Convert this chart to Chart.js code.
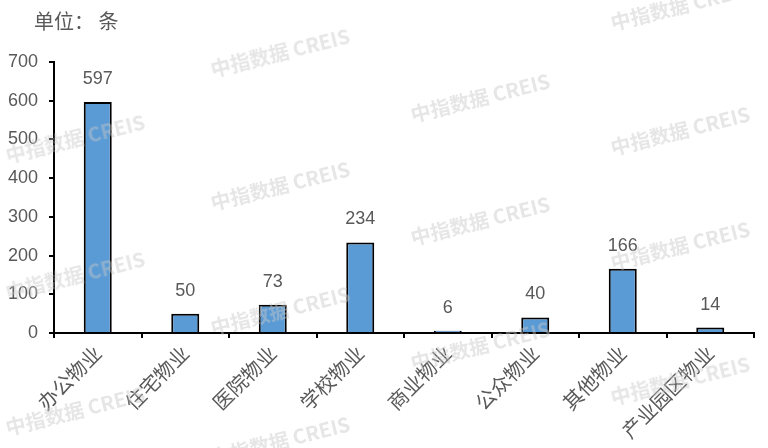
<!DOCTYPE html>
<html>
<head>
<meta charset="utf-8">
<script src="https://cdn.jsdelivr.net/npm/chart.js@4"></script>
<style>
  html, body { margin: 0; padding: 0; background: #fff; }
  #wrap { position: relative; width: 768px; height: 448px; overflow: hidden; }
  #unit { position: absolute; left: 34px; top: 6px; font: 20px "Noto Sans CJK SC", sans-serif; color: #595959; }
  .wm { position: absolute; white-space: nowrap; font: bold 20px "Noto Sans CJK SC", sans-serif;
        color: rgba(200,200,200,0.45); transform: translate(-50%, -50%) rotate(-14deg); pointer-events: none; }
</style>
</head>
<body>
<div id="wrap">
  <canvas id="chart" width="768" height="448"></canvas>
  <div id="unit">单位：&nbsp;条</div>
</div>
<script>
// data
const categories = ['办公物业', '住宅物业', '医院物业', '学校物业', '商业物业', '公众物业', '其他物业', '产业园区物业'];
const counts = [597, 50, 73, 234, 6, 40, 166, 14];
const yTicks = [0, 100, 200, 300, 400, 500, 600, 700];

// watermark spots (decoration)
const marks = [[680, 5], [280, 52], [480, 97], [680, 130], [75, 138], [280, 185], [480, 220],
  [680, 245], [75, 275], [280, 310], [480, 345], [680, 380], [75, 410], [280, 440]];

const wrap = document.getElementById('wrap');
marks.forEach(m => {
    const d = document.createElement('div');
    d.className = 'wm';
    d.style.left = m[0] + 'px';
    d.style.top = m[1] + 'px';
    d.textContent = '中指数据 CREIS';
    wrap.appendChild(d);
});

const numFont = '"Liberation Sans", Arial, sans-serif';
const cjkFont = '"Noto Sans CJK SC", sans-serif';

// value labels above each bar
const valueLabels = {
    id: 'valueLabels',
    afterDatasetsDraw(chart) {
        const ctx = chart.ctx;
        const meta = chart.getDatasetMeta(0);
        ctx.save();
        ctx.font = '18px ' + numFont;
        ctx.fillStyle = '#595959';
        ctx.textAlign = 'center';
        ctx.textBaseline = 'middle';
        meta.data.forEach((bar, i) => {
            ctx.fillText(String(counts[i]), bar.x, bar.y - 23);
        });
        ctx.restore();
    }
};

new Chart(document.getElementById('chart'), {
    type: 'bar',
    data: {
        labels: categories,
        datasets: [{
            data: counts,
            backgroundColor: '#5B9BD5',
            borderColor: '#000',
            borderWidth: 2,
            borderSkipped: 'start',
            barPercentage: 0.32,
            categoryPercentage: 1
        }]
    },
    options: {
        responsive: false,
        animation: false,
        layout: { padding: { top: 62, right: 14, left: 0, bottom: 0 } },
        plugins: { legend: { display: false }, tooltip: { enabled: false } },
        scales: {
            x: {
                offset: true,
                border: { color: '#000', width: 2 },
                grid: { offset: true, drawOnChartArea: false, drawTicks: true, tickLength: 5, color: '#000', lineWidth: 2 },
                ticks: {
                    minRotation: 45, maxRotation: 45, autoSkip: false, padding: 3,
                    color: '#595959', font: { family: cjkFont, size: 20 }
                },
                afterFit(s) { s.height = 115; }
            },
            y: {
                min: 0, max: 700,
                afterBuildTicks(s) { s.ticks = yTicks.map(v => ({ value: v })); },
                border: { color: '#000', width: 2 },
                grid: { drawOnChartArea: false, drawTicks: true, tickLength: 5, color: '#000', lineWidth: 2 },
                ticks: { padding: 11, color: '#595959', font: { family: numFont, size: 18 } },
                afterFit(s) { s.width = 54; }
            }
        }
    },
    plugins: [valueLabels]
});
</script>
</body>
</html>
